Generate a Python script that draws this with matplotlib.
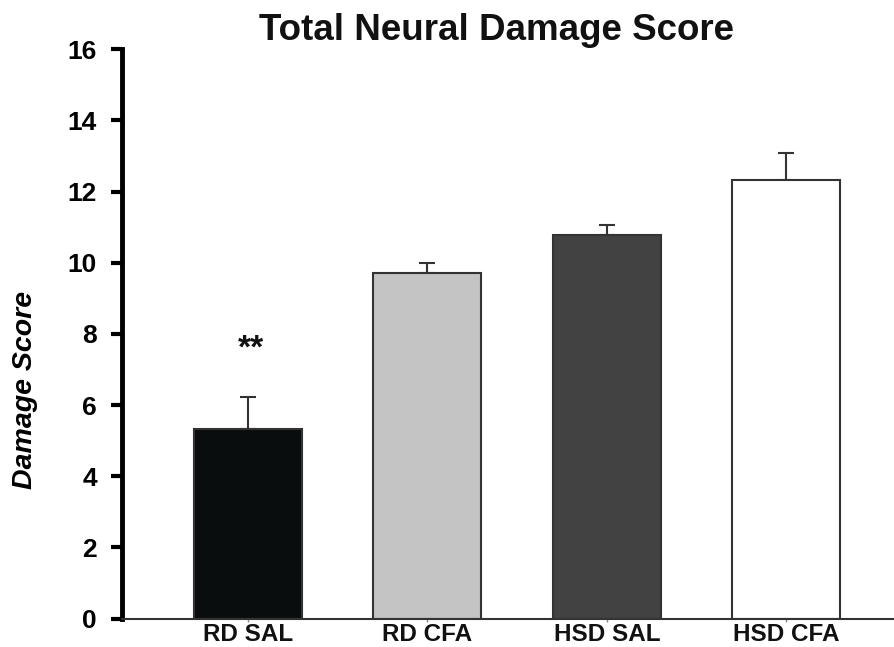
import matplotlib

matplotlib.use("Agg")
import matplotlib.pyplot as plt
import numpy as np

groups = ["RD SAL", "RD CFA", "HSD SAL", "HSD CFA"]
means = [5.34, 9.72, 10.78, 12.33]
sems = [0.89, 0.26, 0.29, 0.75]
colors = ["#0a0d0d", "#c4c4c4", "#424242", "#ffffff"]
yticks = [0, 2, 4, 6, 8, 10, 12, 14, 16]

plt.rcParams["font.family"] = ["Liberation Sans", "DejaVu Sans"]

fig = plt.figure(figsize=(8.94, 6.47), dpi=100)
ax = fig.add_axes([0.1365, 0.044, 0.8635, 0.880])

x = np.arange(len(groups))
ax.bar(x, means, width=0.6, color=colors, edgecolor="#333333", linewidth=1.5, zorder=2)
ax.errorbar(x, means, yerr=[np.zeros(len(sems)), sems], fmt="none",
            ecolor="#333333", elinewidth=1.5, capsize=6, capthick=1.5, zorder=1)

# significance marker above the RD SAL bar
ax.text(x[0] + 0.02, means[0] + sems[0] + 1.35, "**", ha="center", va="center",
        fontsize=24, fontweight="bold", color="#111111")

ax.set_xlim(-0.70, 3.6)
ax.set_ylim(0, 16)
ax.set_yticks(yticks)
ax.set_xticks(x)
ax.set_xticklabels(groups, fontsize=17.5, fontweight="bold", color="#111111")
ax.tick_params(axis="x", length=2, width=1, color="#888888", pad=1)
ax.tick_params(axis="y", width=3, length=8, labelsize=19, pad=10)
for lbl in ax.get_yticklabels():
    lbl.set_fontweight("bold")

ax.spines["top"].set_visible(False)
ax.spines["right"].set_visible(False)
ax.spines["left"].set_linewidth(3.5)
ax.spines["bottom"].set_linewidth(1.5)
ax.spines["bottom"].set_color("#333333")

fig.text(25 / 894, 1 - 390 / 647, "Damage Score", rotation=90, ha="center", va="center",
         fontsize=20.5, fontweight="bold", style="italic")
fig.text(497 / 894, 1 - 30 / 647, "Total Neural Damage Score", ha="center", va="center",
         fontsize=26.5, fontweight="bold", color="#111111")

fig.savefig("out.png", dpi=100)
